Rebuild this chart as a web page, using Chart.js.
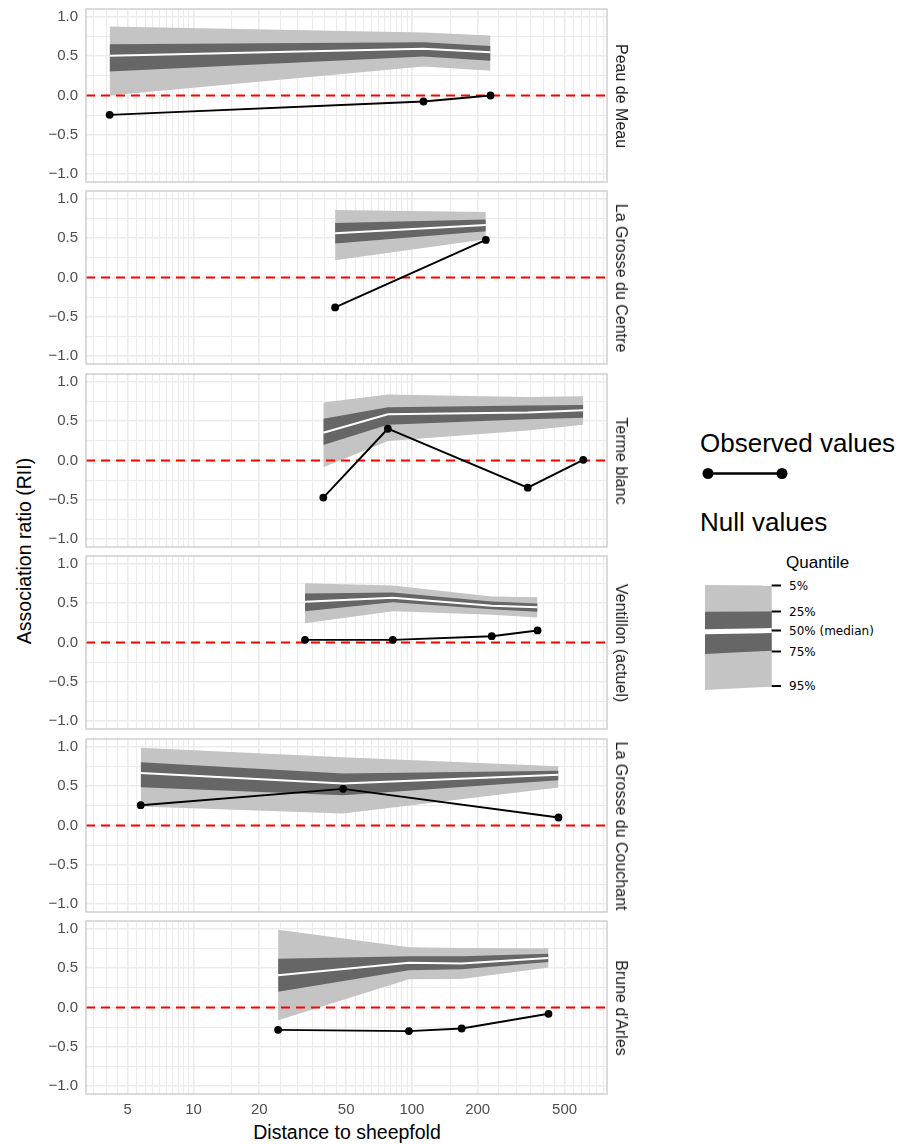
<!DOCTYPE html>
<html>
<head>
<meta charset="utf-8">
<title>Association ratio by distance to sheepfold</title>
<script src="https://cdn.jsdelivr.net/npm/chart.js@4.4.1/dist/chart.umd.min.js"></script>
<style>
  html, body { margin: 0; padding: 0; background: #fff; }
  #wrap { position: relative; width: 905px; height: 1144px; overflow: hidden; font-family: "Liberation Sans", Arial, sans-serif; }
  #wrap canvas { position: absolute; left: 0; }
  .strip { position: absolute; font-size: 16px; line-height: 1; color: #1a1a1a; white-space: nowrap; transform: translate(-50%, -50%) rotate(90deg); }
  #ytitle { position: absolute; left: 25px; top: 551px; font-size: 19.5px; line-height: 1; white-space: nowrap; transform: translate(-50%, -50%) rotate(-90deg); }
  #xtitle { position: absolute; left: 347px; top: 1133px; font-size: 19.5px; line-height: 1; white-space: nowrap; transform: translate(-50%, -50%); }
  .lg-title { position: absolute; left: 700px; font-size: 26px; line-height: 1; white-space: nowrap; }
  #quantTitle { position: absolute; left: 786px; top: 554px; font-size: 17px; line-height: 1; }
  .qlab { position: absolute; left: 789px; font-family: "DejaVu Sans", sans-serif; font-size: 12px; line-height: 12px; white-space: nowrap; transform: translateY(-50%); }
  svg { position: absolute; }
</style>
</head>
<body>
<div id="wrap">
  <div id="ytitle">Association ratio (RII)</div>
  <div id="xtitle">Distance to sheepfold</div>

  <div class="lg-title" style="top:430px">Observed values</div>
  <svg style="left:690px;top:455px" width="110" height="40">
    <line x1="18" y1="18.5" x2="92" y2="18.5" stroke="#000" stroke-width="2.5"/>
    <circle cx="18" cy="18.5" r="5.5" fill="#000"/>
    <circle cx="92" cy="18.5" r="5.5" fill="#000"/>
  </svg>
  <div class="lg-title" style="top:509px">Null values</div>

  <div id="quantTitle">Quantile</div>
  <svg style="left:690px;top:560px" width="110" height="140">
    <polygon points="15,25 81.7,25.5 81.7,126.7 15,130" fill="#c4c4c4"/>
    <polygon points="15,51.7 81.7,51.5 81.7,90.7 15,94" fill="#666666"/>
    <line x1="15" y1="71.8" x2="81.7" y2="70.6" stroke="#fff" stroke-width="5"/>
    <g stroke="#000" stroke-width="2">
      <line x1="81.7" y1="25.5" x2="91" y2="25.5"/>
      <line x1="81.7" y1="51.5" x2="91" y2="51.5"/>
      <line x1="81.7" y1="70.5" x2="91" y2="70.5"/>
      <line x1="81.7" y1="91.5" x2="91" y2="91.5"/>
      <line x1="81.7" y1="126" x2="91" y2="126"/>
    </g>
  </svg>
  <div class="qlab" style="top:586px">5%</div>
  <div class="qlab" style="top:611.5px">25%</div>
  <div class="qlab" style="top:630.5px">50% (median)</div>
  <div class="qlab" style="top:651.5px">75%</div>
  <div class="qlab" style="top:686px">95%</div>
</div>

<script>
/* data, one entry per panel */
const panelNames = ['Peau de Meau', 'La Grosse du Centre', 'Terme blanc', 'Ventillon (actuel)', 'La Grosse du Couchant', "Brune d'Arles"];

const distances = [
  [4.13, 113, 229],
  [44.5, 218],
  [39.3, 77.6, 339, 609],
  [32.4, 81.8, 232, 376],
  [5.73, 48.4, 469],
  [24.4, 96.9, 169, 422],
];

const observed = [
  [-0.246, -0.076, 0.0],
  [-0.38, 0.478],
  [-0.472, 0.404, -0.345, 0.009],
  [0.034, 0.034, 0.08, 0.153],
  [0.258, 0.466, 0.102],
  [-0.284, -0.30, -0.267, -0.08],
];

// null-model quantiles (upper edge of light band = q95 ... lower edge = q05)
const q95 = [
  [0.877, 0.80, 0.763],
  [0.858, 0.833],
  [0.736, 0.838, 0.809, 0.817],
  [0.754, 0.725, 0.585, 0.576],
  [0.99, 0.869, 0.754],
  [0.99, 0.767, 0.758, 0.754],
];
const q75 = [
  [0.653, 0.678, 0.631],
  [0.693, 0.736],
  [0.532, 0.677, 0.698, 0.706],
  [0.623, 0.636, 0.521, 0.496],
  [0.805, 0.661, 0.695],
  [0.619, 0.653, 0.653, 0.682],
];
const q50 = [
  [0.504, 0.593, 0.551],
  [0.562, 0.668],
  [0.353, 0.587, 0.609, 0.638],
  [0.517, 0.568, 0.466, 0.449],
  [0.669, 0.534, 0.644],
  [0.411, 0.568, 0.559, 0.631],
];
const q25 = [
  [0.305, 0.496, 0.441],
  [0.431, 0.588],
  [0.196, 0.455, 0.523, 0.545],
  [0.398, 0.513, 0.424, 0.39],
  [0.487, 0.386, 0.576],
  [0.199, 0.475, 0.487, 0.58],
];
const q05 = [
  [0.0, 0.369, 0.314],
  [0.22, 0.486],
  [-0.085, 0.247, 0.383, 0.455],
  [0.246, 0.398, 0.352, 0.318],
  [0.242, 0.153, 0.483],
  [-0.161, 0.36, 0.364, 0.508],
];

const xMajorTicks = [5, 10, 20, 50, 100, 200, 500];
const xMinorSteps = [1, 1.5, 2, 2.5, 3, 3.5, 4, 4.5, 5, 5.5, 6, 6.5, 7, 7.5, 8, 8.5, 9, 9.5];
const xDecades = [1, 10, 100];
const yMajorTicks = [-1, -0.5, 0, 0.5, 1];
const yMinorTicks = [-0.75, -0.25, 0.25, 0.75];

const XMIN = 3.22, XMAX = 782;
const YMIN = -1.1, YMAX = 1.1;

const LIGHT = '#c4c4c4';
const DARK = '#666666';
const GRID = '#ebebeb';
const BORDER = '#cccccc';
const RED = '#ff0000';

// layout (px)
const AREA_LEFT = 86, AREA_RIGHT = 607, CANVAS_W = 640;
const AREA_H = 173, PAD = 20, X_AXIS_H = 26;
const FIRST_TOP = 9, PANEL_STEP = 182.4;

Chart.defaults.font.family = '"Liberation Sans", Arial, sans-serif';

const xGrid = [];
xDecades.forEach(d => xMinorSteps.forEach(s => {
  const v = s * d;
  if (v >= XMIN && v <= XMAX) xGrid.push(v);
}));
const yGrid = yMajorTicks.concat(yMinorTicks).sort((a, b) => a - b);

const pts = (xs, ys) => xs.map((x, k) => ({ x, y: ys[k] }));

const panelDecor = {
  id: 'panelDecor',
  beforeDatasetDraw(chart, args) {
    if (args.index !== 0) return;
    const { ctx, chartArea: a } = chart;
    const py = chart.scales.y.getPixelForValue(0);
    ctx.save();
    ctx.strokeStyle = RED;
    ctx.lineWidth = 2;
    ctx.setLineDash([9, 6]);
    ctx.beginPath();
    ctx.moveTo(a.left, py);
    ctx.lineTo(a.right, py);
    ctx.stroke();
    ctx.restore();
  },
  afterDraw(chart) {
    const { ctx, chartArea: a } = chart;
    ctx.save();
    ctx.strokeStyle = BORDER;
    ctx.lineWidth = 1.4;
    ctx.strokeRect(a.left, a.top, a.right - a.left, a.bottom - a.top);
    ctx.restore();
  },
};

function renderPanel(i) {
  const wrap = document.getElementById('wrap');
  const isBottom = i === panelNames.length - 1;
  const areaTop = Math.round(FIRST_TOP + PANEL_STEP * i);
  const bottomPad = isBottom ? 6 : PAD;
  const height = PAD + AREA_H + (isBottom ? X_AXIS_H : 0) + bottomPad;

  const canvas = document.createElement('canvas');
  canvas.width = CANVAS_W;
  canvas.height = height;
  canvas.style.top = (areaTop - PAD) + 'px';
  canvas.style.width = CANVAS_W + 'px';
  canvas.style.height = height + 'px';
  wrap.appendChild(canvas);

  const strip = document.createElement('div');
  strip.className = 'strip';
  strip.textContent = panelNames[i];
  strip.style.left = '621px';
  strip.style.top = (areaTop + AREA_H / 2) + 'px';
  wrap.appendChild(strip);

  const d = distances[i];
  const hidden = { borderColor: 'rgba(0,0,0,0)', borderWidth: 0, pointRadius: 0 };

  new Chart(canvas, {
    type: 'line',
    data: {
      datasets: [
        { data: pts(d, observed[i]), borderColor: '#000', backgroundColor: '#000', borderWidth: 1.9, pointRadius: 3.9, pointBorderWidth: 0, fill: false, order: 1 },
        { data: pts(d, q50[i]), borderColor: '#fff', borderWidth: 2, pointRadius: 0, fill: false, order: 2 },
        { data: pts(d, q75[i]), ...hidden, backgroundColor: DARK, fill: 3, order: 3 },
        { data: pts(d, q25[i]), ...hidden, fill: false, order: 3 },
        { data: pts(d, q95[i]), ...hidden, backgroundColor: LIGHT, fill: 5, order: 4 },
        { data: pts(d, q05[i]), ...hidden, fill: false, order: 4 },
      ],
    },
    options: {
      responsive: false, animation: false, events: [],
      layout: { padding: { top: PAD, bottom: bottomPad, left: 0, right: CANVAS_W - AREA_RIGHT } },
      plugins: { legend: { display: false }, tooltip: { enabled: false } },
      scales: {
        x: {
          type: 'logarithmic', min: XMIN, max: XMAX,
          afterBuildTicks: s => { s.ticks = xGrid.map(v => ({ value: v })); },
          afterFit: s => { s.height = isBottom ? X_AXIS_H : 0; },
          border: { display: false },
          grid: {
            drawTicks: false,
            color: GRID,
            lineWidth: c => (c.tick && xMajorTicks.includes(c.tick.value) ? 1.6 : 1),
          },
          ticks: {
            display: isBottom, autoSkip: false, maxRotation: 0, padding: 7,
            color: '#4d4d4d', font: { size: 15 },
            callback: v => (xMajorTicks.includes(v) ? String(v) : ''),
          },
        },
        y: {
          type: 'linear', min: YMIN, max: YMAX,
          afterBuildTicks: s => { s.ticks = yGrid.map(v => ({ value: v })); },
          afterFit: s => { s.width = AREA_LEFT; },
          border: { display: false },
          grid: {
            drawTicks: false,
            color: GRID,
            lineWidth: c => (c.tick && yMajorTicks.includes(c.tick.value) ? 1.6 : 1),
          },
          ticks: {
            padding: 8, color: '#4d4d4d', font: { size: 15 },
            callback: v => (yMajorTicks.includes(v) ? v.toFixed(1).replace('-', '\u2212') : ''),
          },
        },
      },
    },
    plugins: [panelDecor],
  });
}

panelNames.forEach((name, i) => renderPanel(i));
</script>
</body>
</html>
